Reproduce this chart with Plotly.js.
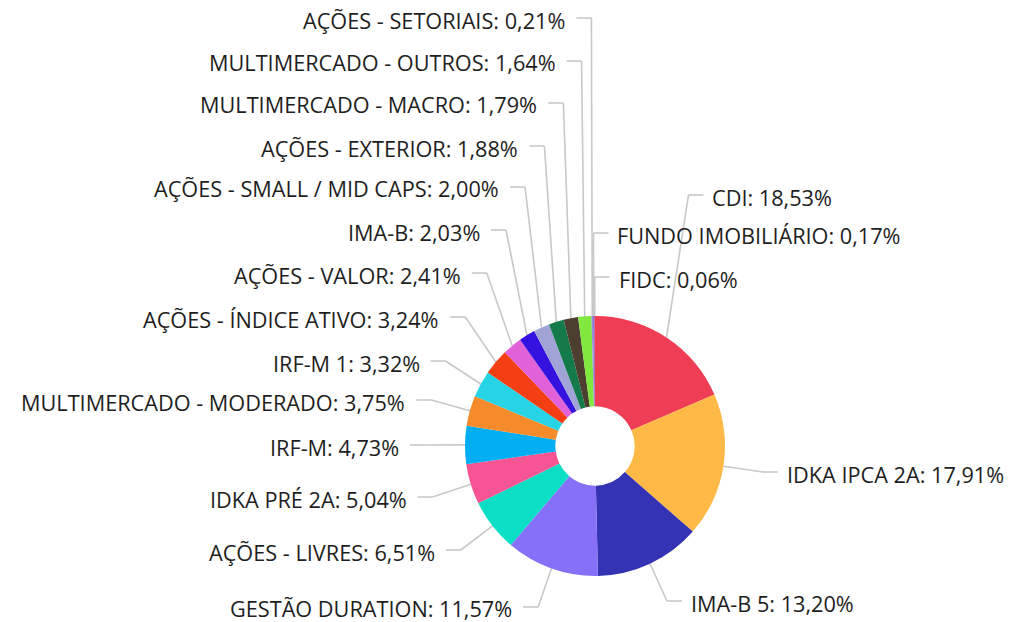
<!DOCTYPE html>
<html>
<head>
<meta charset="utf-8">
<script src="https://cdn.plot.ly/plotly-3.0.1.min.js"></script>
<style>html,body{margin:0;padding:0;background:#fff;}#chart{width:1010px;height:622px;}</style>
</head>
<body>
<div id="chart"></div>
<script>
// ---- data ----
const categories = [
  "CDI", "IDKA IPCA 2A", "IMA-B 5", "GESTÃO DURATION", "AÇÕES - LIVRES",
  "IDKA PRÉ 2A", "IRF-M", "MULTIMERCADO - MODERADO", "IRF-M 1", "AÇÕES - ÍNDICE ATIVO",
  "AÇÕES - VALOR", "IMA-B", "AÇÕES - SMALL / MID CAPS", "AÇÕES - EXTERIOR",
  "MULTIMERCADO - MACRO", "MULTIMERCADO - OUTROS", "AÇÕES - SETORIAIS",
  "FUNDO IMOBILIÁRIO", "FIDC"
];
const values = [18.53, 17.91, 13.20, 11.57, 6.51, 5.04, 4.73, 3.75, 3.32, 3.24,
                2.41, 2.03, 2.00, 1.88, 1.79, 1.64, 0.21, 0.17, 0.06];
const colors = [
  "#EE3D55", "#FFB946", "#3333B4", "#8570F7", "#0ADEC4",
  "#F65492", "#03AEF2", "#F58B2A", "#27D4E6", "#F43F15",
  "#E061D8", "#3512E0", "#A0A3D6", "#147A4A", "#4D3F2F",
  "#80E83E", "#9C8FD8", "#6A5ACD", "#E8365A"
];

// ---- label layout (pixel rows for each label's leader line, and side) ----
const labelRowY = [195, 472, 601, 607, 550, 497, 445, 400, 361, 317,
                   273, 230, 187, 146, 103, 61, 18, 233, 277];
const labelSide = ["R", "R", "R", "L", "L", "L", "L", "L", "L", "L",
                   "L", "L", "L", "L", "L", "L", "L", "R", "R"];

// ---- geometry ----
const W = 1010, H = 622;
const CX = 595, CY = 446, R = 130;
const ELBOW_R = 170, SEG2 = 15, GAP_L = 10, GAP_R = 8;
const px = x => x / W;
const py = y => 1 - y / H;

const total = values.reduce((a, b) => a + b, 0);
const shapes = [];
const annotations = [];
let cum = 0;
values.forEach((v, i) => {
  const mid = (cum + v / 2) / total * 2 * Math.PI;
  cum += v;
  const s = Math.sin(mid), c = Math.cos(mid);
  const x0 = CX + R * s, y0 = CY - R * c;
  const x1 = CX + ELBOW_R * s, y1 = labelRowY[i];
  const dir = labelSide[i] === "R" ? 1 : -1;
  const x2 = x1 + dir * SEG2;
  const lineStyle = {color: "#C8C8C8", width: 1.6};
  shapes.push({type: "line", xref: "paper", yref: "paper", layer: "below",
               x0: px(x0), y0: py(y0), x1: px(x1), y1: py(y1), line: lineStyle});
  shapes.push({type: "line", xref: "paper", yref: "paper", layer: "below",
               x0: px(x1), y0: py(y1), x1: px(x2), y1: py(y1), line: lineStyle});
  const tx = x2 + dir * (dir > 0 ? GAP_R : GAP_L);
  annotations.push({
    xref: "paper", yref: "paper", x: px(tx), y: py(Math.min(y1 + 2, H - 14)),
    xanchor: dir > 0 ? "left" : "right", yanchor: "middle",
    showarrow: false, borderpad: 0,
    text: categories[i] + ": " + v.toFixed(2).replace(".", ",") + "%",
    font: {family: "'Open Sans', sans-serif", size: 21.7, color: "#1E1E1E"}
  });
});

const trace = {
  type: "pie",
  labels: categories,
  values: values,
  sort: false,
  direction: "clockwise",
  rotation: 0,
  hole: 0.305,
  textinfo: "none",
  hoverinfo: "none",
  marker: {colors: colors, line: {width: 0}},
  domain: {x: [px(CX - R), px(CX + R)], y: [py(CY + R), py(CY - R)]}
};

Plotly.newPlot("chart", [trace], {
  width: W, height: H,
  margin: {l: 0, r: 0, t: 0, b: 0},
  showlegend: false,
  paper_bgcolor: "#ffffff",
  shapes: shapes,
  annotations: annotations
}, {staticPlot: true});
</script>
</body>
</html>
